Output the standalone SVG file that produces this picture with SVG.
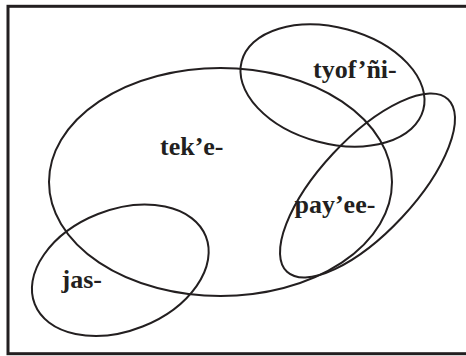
<svg xmlns="http://www.w3.org/2000/svg" width="466" height="356" viewBox="0 0 466 356">
<style>
.set{fill:none;stroke:#231f20;stroke-width:2}
.lbl{font-family:"Liberation Serif","Times New Roman",serif;font-weight:bold;font-size:26px;fill:#231f20}
</style>
<rect x="0" y="0" width="466" height="356" fill="#ffffff"/>
<rect id="frame" x="8" y="6.3" width="470" height="347.4" fill="none" stroke="#231f20" stroke-width="3"/>
<g id="teke">
<ellipse class="set" cx="220.5" cy="182" rx="171.5" ry="114"/>
<text class="lbl" x="160" y="155">tek’e-</text>
</g>
<g id="tyofni">
<ellipse class="set" cx="332.5" cy="85.5" rx="94" ry="58" transform="rotate(15 332.5 85.5)"/>
<text class="lbl" x="313" y="78">tyof’ñi-</text>
</g>
<g id="payee">
<ellipse class="set" cx="367.5" cy="185.5" rx="118" ry="47" transform="rotate(-47 367.5 185.5)"/>
<text class="lbl" x="294.5" y="213">pay’ee-</text>
</g>
<g id="jas">
<ellipse class="set" cx="120.3" cy="270.3" rx="92" ry="60.5" transform="rotate(-21.6 120.3 270.3)"/>
<text class="lbl" x="61.5" y="288">jas-</text>
</g>
<g id="connectors"/>
</svg>
